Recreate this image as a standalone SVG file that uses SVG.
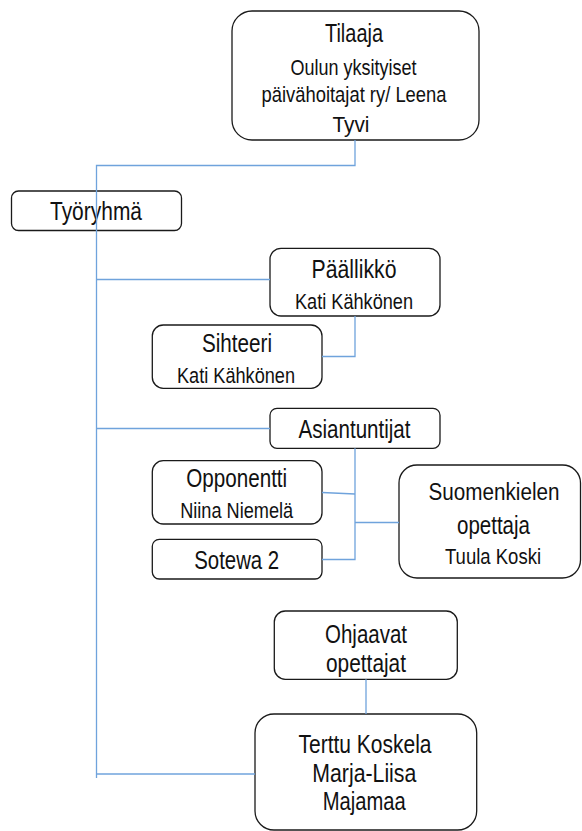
<svg xmlns="http://www.w3.org/2000/svg" width="582" height="831" viewBox="0 0 582 831">
<style>
.box{fill:#fff;stroke:#1a1a1a;stroke-width:1.3}
.t{font-family:"Liberation Sans",Arial,sans-serif;fill:#111;text-anchor:middle}
.h{font-size:26px}
.s{font-size:22px}
.c{fill:none;stroke:#6fa3dc;stroke-width:1.3}
</style>
<rect width="582" height="831" fill="#fff"/>
<g id="tilaaja">
<rect class="box" x="232" y="11" width="247" height="129" rx="20"/>
<text class="t h" x="354" y="41.7" textLength="58" lengthAdjust="spacingAndGlyphs">Tilaaja</text>
<text class="t s" x="353.5" y="75" textLength="126" lengthAdjust="spacingAndGlyphs">Oulun yksityiset</text>
<text class="t s" x="354" y="102" textLength="185" lengthAdjust="spacingAndGlyphs">päivähoitajat ry/ Leena</text>
<text class="t s" x="351" y="131.5" textLength="37" lengthAdjust="spacingAndGlyphs">Tyvi</text>
</g>
<g id="tyoryhma">
<rect class="box" x="11.5" y="191" width="170" height="39.5" rx="7"/>
<text class="t h" x="96" y="220" textLength="92" lengthAdjust="spacingAndGlyphs">Työryhmä</text>
</g>
<g id="paallikko">
<rect class="box" x="270" y="248.3" width="170" height="67.7" rx="11"/>
<text class="t h" x="354" y="277.5" textLength="85" lengthAdjust="spacingAndGlyphs">Päällikkö</text>
<text class="t s" x="354" y="309" textLength="118" lengthAdjust="spacingAndGlyphs">Kati Kähkönen</text>
</g>
<g id="sihteeri">
<rect class="box" x="152.3" y="325" width="169.7" height="63.3" rx="11"/>
<text class="t h" x="237" y="351.7" textLength="70" lengthAdjust="spacingAndGlyphs">Sihteeri</text>
<text class="t s" x="236" y="382.7" textLength="118" lengthAdjust="spacingAndGlyphs">Kati Kähkönen</text>
</g>
<g id="asiantuntijat">
<rect class="box" x="270" y="408.3" width="170" height="40" rx="7"/>
<text class="t h" x="354.5" y="438.3" textLength="112" lengthAdjust="spacingAndGlyphs">Asiantuntijat</text>
</g>
<g id="opponentti">
<rect class="box" x="152.3" y="460.7" width="169.7" height="63.3" rx="11"/>
<text class="t h" x="236.7" y="487.3" textLength="101" lengthAdjust="spacingAndGlyphs">Opponentti</text>
<text class="t s" x="236.7" y="518.3" textLength="113" lengthAdjust="spacingAndGlyphs">Niina Niemelä</text>
</g>
<g id="sotewa">
<rect class="box" x="152.3" y="539.3" width="169.7" height="39.7" rx="7"/>
<text class="t h" x="236.7" y="569.3" textLength="85" lengthAdjust="spacingAndGlyphs">Sotewa 2</text>
</g>
<g id="suomenkielen">
<rect class="box" x="399" y="465" width="181.5" height="113" rx="18"/>
<text class="t" font-size="23" x="494" y="500" textLength="131" lengthAdjust="spacingAndGlyphs">Suomenkielen</text>
<text class="t h" x="493.5" y="534" textLength="73" lengthAdjust="spacingAndGlyphs">opettaja</text>
<text class="t s" x="493" y="564" textLength="96" lengthAdjust="spacingAndGlyphs">Tuula Koski</text>
</g>
<g id="ohjaavat">
<rect class="box" x="274.3" y="611" width="183" height="68.3" rx="11"/>
<text class="t h" x="366" y="643.3" textLength="82" lengthAdjust="spacingAndGlyphs">Ohjaavat</text>
<text class="t h" x="366" y="671.7" textLength="80" lengthAdjust="spacingAndGlyphs">opettajat</text>
</g>
<g id="terttu">
<rect class="box" x="255" y="714" width="221.7" height="116" rx="19"/>
<text class="t h" x="365" y="753.3" textLength="133" lengthAdjust="spacingAndGlyphs">Terttu Koskela</text>
<text class="t h" x="364.3" y="781.7" textLength="104" lengthAdjust="spacingAndGlyphs">Marja-Liisa</text>
<text class="t h" x="364.3" y="810" textLength="83" lengthAdjust="spacingAndGlyphs">Majamaa</text>
</g>
<g id="connectors">
<path class="c" d="M355,140 V165.5 H96.5 V778"/>
<path class="c" d="M96.5,279.5 H270"/>
<path class="c" d="M355,316 V356.5 H322"/>
<path class="c" d="M96.5,428.5 H270"/>
<path class="c" d="M355,448.3 V559.5 H322"/>
<path class="c" d="M322,492.5 L355,494"/>
<path class="c" d="M355,522.5 H399"/>
<path class="c" d="M96.5,774 H255"/>
<path class="c" d="M366,679.3 V714"/>
</g>
</svg>
